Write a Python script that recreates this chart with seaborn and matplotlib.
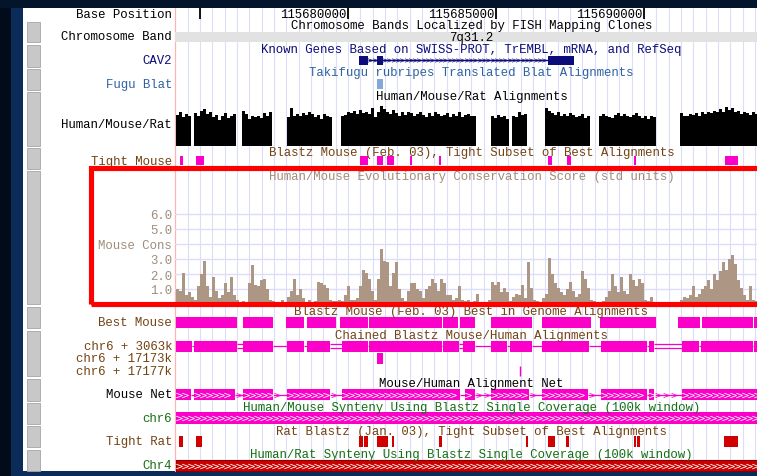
import numpy as np
import pandas as pd
import matplotlib
matplotlib.use("Agg")
import matplotlib.pyplot as plt
import matplotlib.transforms as mtransforms
from matplotlib.patches import Rectangle
import seaborn as sns

# ---------------- data: positions in kb from chr7:115,670,000 ----------------
ruler_ticks_kb = [5.0, 10.0, 15.0, 20.0]
ruler_labels = ["", "115680000", "115685000", "115690000"]
chrom_band = (4.0, 25.0)
chrom_band_label = "7q31.2"
cav2_exons = [(10.37, 10.68), (10.98, 11.18), (16.76, 17.64)]
fugu_blat = [(10.98, 11.18)]

# sampled tracks: first sample left edge and sample width (kb)
sample_start_kb = 4.19
sample_step_kb = 0.1014

hmr_score = [
    0.75, 0.82, 0.70, 0.78, 0.72, 0.00, 0.80, 0.72, 0.86, 0.90,
    0.78, 0.84, 0.70, 0.76, 0.64, 0.72, 0.80, 0.68, 0.74, 0.78,
    0.00, 0.00, 0.85, 0.78, 0.66, 0.72, 0.70, 0.74, 0.68, 0.80,
    0.72, 0.82, 0.00, 0.00, 0.00, 0.00, 0.00, 0.70, 0.92, 0.74,
    0.78, 0.72, 0.80, 0.76, 0.84, 0.78, 0.70, 0.75, 0.66, 0.78,
    0.74, 0.70, 0.00, 0.00, 0.00, 0.72, 0.76, 0.84, 0.80, 0.86,
    0.78, 0.88, 0.80, 0.84, 0.78, 0.92, 0.70, 0.82, 0.97, 0.90,
    0.84, 0.78, 0.88, 0.80, 0.74, 0.82, 0.76, 0.84, 0.80, 0.72,
    0.78, 0.84, 0.76, 0.70, 0.80, 0.74, 0.82, 0.78, 0.72, 0.76,
    0.80, 0.70, 0.78, 0.74, 0.82, 0.70, 0.76, 0.78, 0.72, 0.74,
    0.00, 0.00, 0.00, 0.00, 0.00, 0.74, 0.68, 0.76, 0.70, 0.72,
    0.66, 0.00, 0.74, 0.70, 0.84, 0.76, 0.78, 0.00, 0.00, 0.00,
    0.00, 0.00, 0.00, 0.92, 0.86, 0.80, 0.76, 0.82, 0.74, 0.78,
    0.72, 0.80, 0.76, 0.70, 0.74, 0.78, 0.68, 0.72, 0.00, 0.00,
    0.00, 0.72, 0.78, 0.74, 0.70, 0.68, 0.76, 0.80, 0.72, 0.78,
    0.74, 0.70, 0.76, 0.80, 0.72, 0.68, 0.74, 0.66, 0.72, 0.70,
    0.00, 0.00, 0.00, 0.00, 0.00, 0.00, 0.00, 0.00, 0.80, 0.74,
    0.72, 0.78, 0.76, 0.80, 0.74, 0.82, 0.78, 0.84, 0.80, 0.86,
    0.82, 0.90, 0.84, 0.96, 0.88, 0.92, 0.82, 0.86, 0.78, 0.84,
    0.80, 0.76, 0.82, 0.78,
]

mouse_cons = [
    1.0, 0.9, 2.1, 0.6, 0.8, 0.5, 0.3, 1.2, 2.0, 2.9,
    1.2, 0.5, 1.8, 0.9, 0.4, 0.6, 1.4, 0.8, 1.8, 0.6,
    0.3, 0.0, 0.2, 0.1, 1.4, 2.6, 1.3, 1.2, 1.6, 1.7,
    1.0, 0.3, 0.2, 0.0, 0.0, 0.3, 0.0, 0.5, 0.9, 1.7,
    0.6, 1.0, 0.4, 0.1, 0.3, 0.0, 0.2, 1.5, 1.4, 1.3,
    1.1, 0.3, 0.2, 0.2, 0.3, 0.2, 0.6, 1.2, 0.3, 0.3,
    0.4, 1.2, 2.3, 2.1, 1.7, 0.9, 0.3, 1.7, 3.7, 2.9,
    2.8, 1.2, 2.1, 2.8, 1.0, 0.4, 0.2, 0.9, 1.4, 1.4,
    1.0, 0.9, 0.4, 1.0, 1.2, 1.7, 1.4, 0.9, 1.7, 1.4,
    0.6, 0.6, 0.3, 0.4, 1.2, 0.3, 0.2, 0.3, 0.0, 0.2,
    0.7, 0.0, 0.0, 0.0, 0.3, 1.5, 1.3, 1.5, 0.8, 1.1,
    0.8, 0.2, 0.5, 0.7, 0.6, 1.3, 0.4, 2.8, 1.1, 0.3,
    0.2, 0.0, 0.4, 0.7, 3.1, 2.0, 1.4, 1.1, 0.8, 0.6,
    1.0, 1.5, 0.9, 0.5, 0.7, 2.2, 1.7, 1.1, 0.3, 0.2,
    0.0, 0.0, 0.2, 0.5, 0.9, 2.0, 1.2, 0.8, 1.8, 0.9,
    0.7, 2.0, 1.6, 1.2, 1.7, 1.4, 0.3, 0.2, 0.5, 0.1,
    0.0, 0.0, 0.0, 0.0, 0.0, 0.0, 0.0, 0.0, 0.3, 0.5,
    0.4, 0.6, 1.2, 0.5, 0.7, 1.0, 1.2, 1.6, 1.0, 2.0,
    1.6, 2.2, 2.8, 2.3, 3.0, 3.3, 2.7, 1.6, 1.1, 0.6,
    0.3, 1.2, 0.3, 0.2,
]
cons_ticks = [1, 2, 3, 4, 5, 6]
cons_tick_labels = ["1.0", "2.0", "3.0", "Mouse Cons", "5.0", "6.0"]

tight_mouse = [(4.32, 4.43), (4.86, 5.14), (10.41, 10.68), (10.98, 11.18), (11.32, 11.55),
               (12.09, 12.16), (13.07, 13.14), (16.76, 16.89), (17.40, 17.53), (19.66, 19.73),
               (22.74, 23.18)]
best_mouse = [(4.19, 6.25), (6.45, 7.47), (7.91, 8.51), (8.61, 9.59), (9.73, 10.68),
              (10.71, 13.18), (13.21, 13.72), (13.78, 14.29), (14.83, 16.22), (16.55, 18.21),
              (18.51, 20.41), (21.15, 21.89), (21.96, 23.68), (23.72, 24.19)]
chain_blocks = [(4.19, 4.73), (4.80, 6.25), (6.45, 7.47), (7.94, 8.51), (8.61, 9.39),
                (9.80, 10.68), (10.71, 13.18), (13.21, 13.75), (13.89, 14.29), (14.83, 15.37),
                (15.47, 16.22), (16.55, 18.14), (18.55, 20.10), (20.17, 20.34), (21.28, 21.86),
                (21.93, 23.68), (23.72, 24.19)]
chain_double_gaps = [6.25, 9.39, 13.75, 20.34]
chain_17173k = [(10.98, 11.18)]
chain_17177k = [15.81]
net_blocks = [(4.19, 4.70), (4.80, 6.18), (6.45, 7.47), (7.94, 9.39), (9.80, 13.78),
              (13.95, 14.29), (14.83, 16.11), (16.55, 18.11), (18.55, 20.10), (20.17, 20.34),
              (21.28, 24.19)]
mouse_synteny = [(4.19, 24.19)]
tight_rat = [(4.29, 4.43), (4.86, 5.07), (10.37, 10.51), (10.54, 10.68), (10.98, 11.35),
             (11.49, 11.55), (13.07, 13.18), (16.01, 16.08), (16.76, 16.99), (17.36, 17.47),
             (19.66, 19.73), (19.76, 19.86), (22.70, 23.18)]
rat_synteny = [(4.19, 24.19)]

# ---------------- styling ----------------
sns.set_theme(style="white")
plt.rcParams["font.family"] = ["Liberation Mono", "DejaVu Sans Mono"]
FS = 8.9
PINK = "#fa00c8"
RED = "#d00000"
BROWN = "#744212"
GREEN = "#127012"
NAVY = "#0c0c7a"
STEEL = "#2f62a0"
CONS_TXT = "#a08c7a"
CONS_BAR = "#ad9784"
GRID = "#dcdcfb"
TXT_W = "normal"

W, H, DPI = 757, 477, 100
fig = plt.figure(figsize=(W / DPI, H / DPI), dpi=DPI)
fig.patch.set_facecolor("#0b2c58")


def px_axes(x0, y0, x1, y1):
    return fig.add_axes([x0 / W, 1 - y1 / H, (x1 - x0) / W, (y1 - y0) / H])


# frame / left panel
ax_bg = px_axes(0, 0, W, H)
ax_bg.set_xlim(0, W)
ax_bg.set_ylim(H, 0)
ax_bg.axis("off")
ax_bg.set_zorder(0)
ax_bg.add_patch(Rectangle((0, 0), 11, H, color="#020b1a", lw=0))
ax_bg.add_patch(Rectangle((0, 0), W, 9, color="#04142a", lw=0))
ax_bg.add_patch(Rectangle((23, 9), W - 23, 463, color="white", lw=0))
button_rows = [(23, 43), (46, 68), (70, 91), (93, 147), (149, 170), (172, 305),
               (308, 329), (332, 377), (380, 402), (404, 425), (427, 448), (451, 472)]
for t, b in button_rows:
    ax_bg.add_patch(Rectangle((27, t), 13, b - t, facecolor="#c8c8c8",
                              edgecolor="#a4a4a4", lw=0.6))
ax_bg.plot([175, 175], [9, 472], color="#ffb4b4", lw=0.9)

left_labels = [
    (15, "Base Position", "black"), (37, "Chromosome Band", "black"),
    (61, "CAV2", NAVY), (85, "Fugu Blat", STEEL), (125, "Human/Mouse/Rat", "black"),
    (162, "Tight Mouse", BROWN), (323, "Best Mouse", BROWN),
    (347, "chr6 + 3063k", BROWN), (359, "chr6 + 17173k", BROWN),
    (372, "chr6 + 17177k", BROWN), (395, "Mouse Net", "black"),
    (419, "chr6", GREEN), (442, "Tight Rat", BROWN), (466, "Chr4", GREEN),
]
for y, s, c in left_labels:
    ax_bg.text(172, y, s, ha="right", va="center", color=c, fontsize=FS,
               fontweight=TXT_W)

# main data column
X0_KB, X1_KB = 4.155, 24.19
ax = px_axes(175, 9, 768, 472)
ax.set_xlim(X0_KB, X1_KB)
ax.set_ylim(472, 9)
ax.axis("off")
ax.set_zorder(1)
ax.patch.set_alpha(0)

for g in np.arange(5 - 2 * 5 / 12, X1_KB, 5 / 12):
    if g > 4.2:
        ax.axvline(g, color=GRID, lw=0.8, zorder=0)

tt = mtransforms.blended_transform_factory(ax.transAxes, ax.transData)


def title(y, s, c):
    ax.text(0.5, y, s, transform=tt, ha="center", va="center", color=c,
            fontsize=FS, fontweight=TXT_W, zorder=6)


def blocks(lst, top, h, color, **kw):
    ax.broken_barh([(a, b - a) for a, b in lst], (top, h), facecolors=color,
                   lw=0, zorder=3, **kw)


def chevrons(a, b, y, color, step_px, ms, zorder=4):
    step = step_px / 29.6
    xs = np.arange(a + step / 2, b - step / 3, step)
    if len(xs):
        ax.plot(xs, np.full(len(xs), y), ls="none", marker=r"$>$", ms=ms,
                color=color, mew=0, zorder=zorder)


# ruler
for t, lab in zip(ruler_ticks_kb, ruler_labels):
    ax.vlines(t, 9, 20, color="black", lw=1.3, zorder=5)
    if lab:
        ax.annotate(lab, (t, 15), xytext=(-2, 0), textcoords="offset pixels",
                    ha="right", va="center", fontsize=FS, fontweight=TXT_W,
                    color="black", zorder=6)

# chromosome band
title(26, "Chromosome Bands Localized by FISH Mapping Clones", "black")
ax.broken_barh([(chrom_band[0], chrom_band[1] - chrom_band[0])], (33, 10),
               facecolors="#e2e2e2", lw=0, zorder=2)
ax.text(0.5, 38, chrom_band_label, transform=tt, ha="center", va="center",
        fontsize=FS, fontweight=TXT_W, color="black", zorder=6)

# known genes
title(50, "Known Genes Based on SWISS-PROT, TrEMBL, mRNA, and RefSeq", NAVY)
ax.hlines(61, cav2_exons[0][1], cav2_exons[-1][0], color=NAVY, lw=1, zorder=3)
for (a0, a1), (b0, b1) in zip(cav2_exons[:-1], cav2_exons[1:]):
    chevrons(a1, b0, 61, NAVY, 4.3, 3.5)
blocks(cav2_exons, 57, 9, NAVY)

# fugu
title(73, "Takifugu rubripes Translated Blat Alignments", STEEL)
blocks(fugu_blat, 80, 10, "#84a8d8")

# human/mouse/rat
title(97, "Human/Mouse/Rat Alignments", "black")

n_h = len(hmr_score)
hmr_df = pd.DataFrame({
    "pos": sample_start_kb + sample_step_kb * (np.arange(n_h) + 0.5),
    "score": hmr_score,
})
axh = px_axes(175, 106, 768, 147)
axh.set_zorder(2)
sns.histplot(data=hmr_df, x="pos", weights="score", binwidth=sample_step_kb,
             binrange=(sample_start_kb, sample_start_kb + sample_step_kb * n_h),
             ax=axh, color="black", alpha=1, linewidth=0, element="bars")
axh.set_xlim(X0_KB, X1_KB)
axh.set_ylim(0, 1)
axh.axis("off")

# tight mouse
title(153, "Blastz Mouse (Feb. 03), Tight Subset of Best Alignments", BROWN)
blocks(tight_mouse, 157, 9, PINK)

# conservation
title(177, "Human/Mouse Evolutionary Conservation Score (std units)", CONS_TXT)
n_c = len(mouse_cons)
cons_df = pd.DataFrame({
    "pos": sample_start_kb + sample_step_kb * (np.arange(n_c) + 0.5),
    "score": mouse_cons,
})
axc = px_axes(175, 200, 768, 305)
axc.set_zorder(2)
axc.patch.set_alpha(0)
sns.histplot(data=cons_df, x="pos", weights="score", binwidth=sample_step_kb,
             binrange=(sample_start_kb, sample_start_kb + sample_step_kb * n_c),
             ax=axc, color=CONS_BAR, alpha=1, linewidth=0, element="bars")
axc.set_xlim(X0_KB, X1_KB)
axc.set_ylim(0, 7)
for s in axc.spines.values():
    s.set_visible(False)
axc.set_xticks([])
axc.set_yticks(cons_ticks)
axc.set_yticklabels(cons_tick_labels, color=CONS_TXT, fontsize=FS,
                    fontweight=TXT_W)
axc.tick_params(axis="y", length=0, pad=2.2)
axc.grid(axis="y", color=GRID, lw=1)
axc.set_axisbelow(True)
axc.set_xlabel("")
axc.set_ylabel("")

# best mouse
title(312, "Blastz Mouse (Feb. 03) Best in Genome Alignments", BROWN)
blocks(best_mouse, 318, 11, PINK)

# chains
title(336, "Chained Blastz Mouse/Human Alignments", BROWN)
for (a0, a1), (b0, b1) in zip(chain_blocks[:-1], chain_blocks[1:]):
    if any(abs(a1 - g) < 1e-6 for g in chain_double_gaps):
        ax.hlines([345, 349], a1, b0, color=PINK, lw=0.9, zorder=3)
    else:
        ax.hlines(347, a1, b0, color=PINK, lw=0.9, zorder=3)
blocks(chain_blocks, 342, 11, PINK)
blocks(chain_17173k, 354, 11, PINK)
ax.vlines(chain_17177k, 367, 377, color=PINK, lw=1, zorder=3)

# net
title(384, "Mouse/Human Alignment Net", "black")
for (a0, a1), (b0, b1) in zip(net_blocks[:-1], net_blocks[1:]):
    ax.hlines(395.5, a1, b0, color=PINK, lw=0.9, zorder=3)
    chevrons(a1, b0, 395.5, PINK, 8, 4.2)
blocks(net_blocks, 390, 11, PINK)
for a, b in net_blocks:
    chevrons(a, b, 395.5, "white", 6, 4.6)

# mouse synteny
title(408, "Human/Mouse Synteny Using Blastz Single Coverage (100k window)", GREEN)
blocks(mouse_synteny, 413, 12, PINK)
for a, b in mouse_synteny:
    chevrons(a, b, 419, "white", 6, 4.6)

# tight rat
title(432, "Rat Blastz (Jan. 03), Tight Subset of Best Alignments", BROWN)
blocks(tight_rat, 437, 11, RED)

# rat synteny
title(455, "Human/Rat Synteny Using Blastz Single Coverage (100k window)", GREEN)
ax.broken_barh([(a, b - a) for a, b in rat_synteny], (461, 11), facecolors="#cc0000",
               edgecolors="#8a0000", lw=0.8, zorder=3)
for a, b in rat_synteny:
    chevrons(a, b, 466.5, "white", 6, 4.6)

# red highlight box
fig.add_artist(Rectangle((90.5 / W, 1 - 304.5 / H), (800 - 90.5) / W, (304.5 - 168.5) / H,
                         transform=fig.transFigure, fill=False, ec="#ff0000", lw=3.7,
                         zorder=20))

fig.savefig("out.png", dpi=DPI, facecolor=fig.get_facecolor())
